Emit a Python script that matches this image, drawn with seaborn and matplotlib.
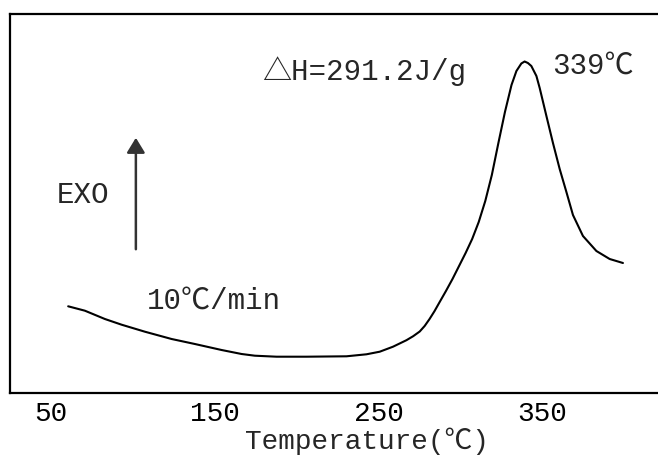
import numpy as np
import pandas as pd
import matplotlib
matplotlib.use("Agg")
import matplotlib.pyplot as plt
import seaborn as sns

# DSC curve (temperature in C, heat flow in arbitrary units)
temperature = [60.5, 70.7, 82.9, 93.1, 107.3, 123.6, 137.8, 154.1, 166.3, 174.4,
               187.6, 205.9, 230.3, 242.5, 250.6, 258.7, 266.9, 271.0, 275.0, 278.0,
               281.0, 284.0, 287.0, 291.0, 295.0, 299.0, 303.0, 307.0, 311.0, 315.0,
               319.0, 323.0, 327.0, 331.0, 334.0, 337.0, 339.0, 341.0, 343.1, 346.2,
               348.2, 352.3, 356.3, 360.4, 364.5, 368.5, 374.6, 382.8, 390.9, 399.0]
heat_flow = [86.7, 82.3, 74.0, 68.3, 61.3, 54.0, 49.0, 43.0, 39.0, 37.3,
             36.3, 36.3, 36.7, 38.7, 41.3, 46.3, 52.8, 56.8, 61.5, 67.0,
             74.0, 81.8, 90.5, 102.0, 114.0, 127.0, 140.0, 154.0, 171.0, 192.0,
             218.0, 250.0, 281.0, 308.0, 322.0, 329.5, 331.5, 330.0, 327.0, 317.0,
             305.0, 277.0, 250.0, 224.0, 201.0, 178.0, 157.0, 142.0, 134.0, 130.0]

tick_positions = [50, 75, 100, 125, 150, 175, 200, 225, 250, 275, 300, 325, 350, 375, 400]
tick_labels = ["50", "", "", "", "150", "", "", "", "250", "", "", "", "350", "", ""]

sns.set_style("white")
fonts = ["Liberation Mono", "Noto Sans CJK SC", "DejaVu Sans"]
plt.rcParams["font.family"] = fonts

df = pd.DataFrame({"Temperature": temperature, "Heat": heat_flow})

fig = plt.figure(figsize=(6.58, 4.56), dpi=100)
ax = fig.add_axes([10 / 658, 62 / 456, 649 / 658, 379 / 456])

sns.lineplot(data=df, x="Temperature", y="Heat", ax=ax, color="black",
             linewidth=1.5, sort=False)

ax.set_xlim(25, 421)
ax.set_ylim(0, 379)

for side in ["left", "top", "bottom"]:
    ax.spines[side].set_linewidth(1.6)
    ax.spines[side].set_color("black")
ax.spines["right"].set_visible(False)

ax.set_xticks(tick_positions)
ax.set_xticklabels(tick_labels)
ax.tick_params(axis="x", direction="in", length=3, width=1.4, pad=5,
               labelsize=20, colors="black")
ax.set_yticks([])
ax.set_ylabel("")
ax.set_xlabel("Temperature(℃)", fontsize=20)
ax.xaxis.set_label_coords(0.55, -0.088)

# annotations
ax.text(178.7, 323, "△H=291.2J/g", fontsize=21, ha="left", va="center")
ax.text(355.5, 328, "339℃", fontsize=21, ha="left", va="center")
ax.text(53.7, 199, "EXO", fontsize=21, ha="left", va="center")
ax.text(108.5, 93, "10℃/min", fontsize=21, ha="left", va="center")
ax.annotate("", xy=(101.8, 258), xytext=(101.8, 141),
            arrowprops=dict(arrowstyle="-|>,head_length=0.9,head_width=0.55",
                            color="#333333", lw=1.8))

fig.savefig("out.png", dpi=100)
